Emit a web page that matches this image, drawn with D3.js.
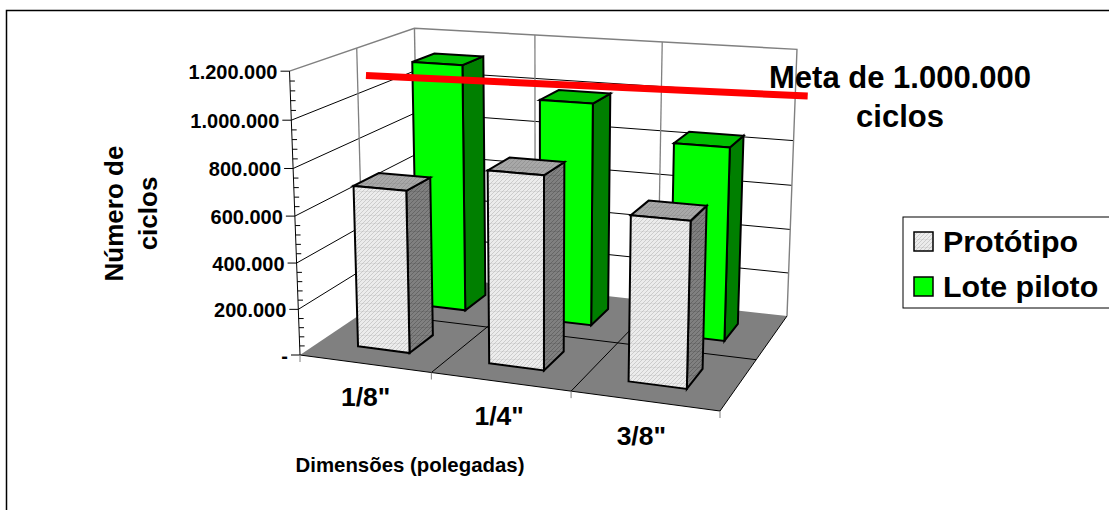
<!DOCTYPE html>
<html><head><meta charset="utf-8">
<script src="https://cdnjs.cloudflare.com/ajax/libs/d3/7.8.5/d3.min.js"></script>
<style>html,body{margin:0;padding:0;background:#fff}svg{display:block}text{font-family:"Liberation Sans",Arial,sans-serif;font-weight:bold;fill:#000}</style>
</head><body><svg id="chart" width="1109" height="510"></svg>
<script>
const categories = ['1/8"', '1/4"', '3/8"'];
const prototipo = [700000, 815000, 685000];
const lotePiloto = [1120000, 990000, 845000];
const yTicks = [0, 200000, 400000, 600000, 800000, 1000000, 1200000];
const yMinorStep = 40000;
const goal = 1000000;

const svg = d3.select("#chart");
const yMax = 1200000;

// Perspective frame of the 3D plot: floor corners and the three visible upper corners.
const floorQuad = [[300,355],[720,411],[787,316],[419,275]];
const upperCorners = [
  {u:0, v:0, top:[290,72], floor:floorQuad[0]},
  {u:0, v:1, top:[414,27], floor:floorQuad[3]},
  {u:1, v:1, top:[797,50], floor:floorQuad[2]}
];

function squareToQuad(q){
  const [[x0,y0],[x1,y1],[x2,y2],[x3,y3]] = q;
  const dx1=x1-x2, dx2=x3-x2, sx=x0-x1+x2-x3, dy1=y1-y2, dy2=y3-y2, sy=y0-y1+y2-y3;
  const det=dx1*dy2-dx2*dy1;
  const g=(sx*dy2-dx2*sy)/det, h=(dx1*sy-sx*dy1)/det;
  return {a:x1-x0+g*x1,b:x3-x0+h*x3,c:x0,d:y1-y0+g*y1,e:y3-y0+h*y3,f:y0,g,h};
}
const H = squareToQuad(floorQuad);

// Least-squares fit of the vertical column of the projection to the upper corners.
function fitVertical(){
  let N=[[0,0,0],[0,0,0],[0,0,0]], r=[0,0,0];
  const add=(row,rhs)=>{for(let i=0;i<3;i++){r[i]+=row[i]*rhs;for(let j=0;j<3;j++)N[i][j]+=row[i]*row[j];}};
  upperCorners.forEach(c=>{
    const w=H.g*c.u+H.h*c.v+1;
    add([1,0,-c.top[0]],(c.top[0]-c.floor[0])*w);
    add([0,1,-c.top[1]],(c.top[1]-c.floor[1])*w);
  });
  const det3=m=>m[0][0]*(m[1][1]*m[2][2]-m[1][2]*m[2][1])-m[0][1]*(m[1][0]*m[2][2]-m[1][2]*m[2][0])+m[0][2]*(m[1][0]*m[2][1]-m[1][1]*m[2][0]);
  const D=det3(N);
  return [0,1,2].map(k=>det3(N.map((row,i)=>row.map((val,j)=>j===k?r[i]:val)))/D);
}
const [va,vb,vc] = fitVertical();

const uScale = d3.scaleLinear().domain([0,3]).range([0,1]);
const zScale = d3.scaleLinear().domain([0,yMax]).range([0,1]);
function project(cat, depth, value){
  const u=uScale(cat), z=zScale(value);
  const w=H.g*u+H.h*depth+vc*z+1;
  return [(H.a*u+H.b*depth+va*z+H.c)/w,(H.d*u+H.e*depth+vb*z+H.f)/w];
}
const poly = pts => "M"+pts.map(p=>p.map(n=>n.toFixed(2)).join(",")).join("L")+"Z";
const seg = (a,b) => `M${a[0].toFixed(2)},${a[1].toFixed(2)}L${b[0].toFixed(2)},${b[1].toFixed(2)}`;

// Dithered fills for the grey series.
const defs = svg.append("defs");
function hatch(id, light, dark){
  const p = defs.append("pattern").attr("id",id).attr("width",4).attr("height",8).attr("patternUnits","userSpaceOnUse");
  p.append("rect").attr("width",4).attr("height",8).attr("fill",light);
  p.append("path").attr("d","M0,2L2,0M2,4L4,2M0,6L2,4M2,8L4,6").attr("stroke",dark).attr("stroke-width",0.8).attr("opacity",0.6);
  p.append("rect").attr("y",7).attr("width",4).attr("height",0.7).attr("fill",dark).attr("opacity",0.35);
}
hatch("hFront","#ececec","#a8a8a8");
hatch("hTop","#a8a8a8","#808080");
hatch("hSide","#808080","#484848");

// Chart frame: only the top and left edges fall inside the page.
svg.append("path").attr("d","M6.5,510V10.5H1109").attr("fill","none").attr("stroke","#000").attr("stroke-width",1.5);

const g = svg.append("g");
const GREY="#808080";

// Floor
g.append("path").attr("d",poly([project(0,0,0),project(3,0,0),project(3,1,0),project(0,1,0)])).attr("fill",GREY).attr("stroke","none");

// Wall gridlines
yTicks.slice(1,-1).forEach(t=>{
  g.append("path").attr("d",seg(project(0,0,t),project(0,1,t))+seg(project(0,1,t),project(3,1,t))).attr("fill","none").attr("stroke","#000").attr("stroke-width",1);
});
// Vertical gridlines and wall outline
[1,2].forEach(c=>g.append("path").attr("d",seg(project(c,1,0),project(c,1,yMax))).attr("stroke",GREY).attr("stroke-width",1.3));
g.append("path").attr("d",seg(project(0,.5,0),project(0,.5,yMax))).attr("stroke",GREY).attr("stroke-width",1.3);
g.append("path").attr("d","M"+[project(0,0,yMax),project(0,1,yMax),project(3,1,yMax),project(3,1,0)].map(p=>p.join(",")).join("L")).attr("fill","none").attr("stroke",GREY).attr("stroke-width",1.4);
g.append("path").attr("d",seg(project(0,1,0),project(0,1,yMax))).attr("stroke",GREY).attr("stroke-width",1.4);

// Floor gridlines
g.append("path").attr("d",seg(project(0,.5,0),project(3,.5,0))+seg(project(1,0,0),project(1,1,0))+seg(project(2,0,0),project(2,1,0))).attr("stroke","#000").attr("stroke-width",1);
// Floor front and right edges
g.append("path").attr("d","M"+[project(0,0,0),project(3,0,0),project(3,1,0)].map(p=>p.join(",")).join("L")).attr("fill","none").attr("stroke","#000").attr("stroke-width",1);

// Bars, back row first
const barHalf = 0.2;
function bar(cat, v0, v1, value, fills){
  const u0=cat+.5-barHalf, u1=cat+.5+barHalf;
  const b = g.append("g").attr("stroke","#000").attr("stroke-width",2).attr("stroke-linejoin","miter");
  b.append("path").attr("d",poly([project(u1,v0,0),project(u1,v1,0),project(u1,v1,value),project(u1,v0,value)])).attr("fill",fills.side);
  b.append("path").attr("d",poly([project(u0,v0,value),project(u1,v0,value),project(u1,v1,value),project(u0,v1,value)])).attr("fill",fills.top);
  b.append("path").attr("d",poly([project(u0,v0,0),project(u1,v0,0),project(u1,v0,value),project(u0,v0,value)])).attr("fill",fills.front);
}
const greenFill={front:"#00ff00",side:"#007f00",top:"#00bf00"};
const hatchFill={front:"url(#hFront)",side:"url(#hSide)",top:"url(#hTop)"};
lotePiloto.forEach((val,i)=>bar(i,.65,.85,val,greenFill));
prototipo.forEach((val,i)=>bar(i,.15,.35,val,hatchFill));

// Goal line
g.append("path").attr("d",seg(project(-.27,.84,goal),project(3.09,1.0,goal))).attr("stroke","#ff0000").attr("stroke-width",7).attr("fill","none");

// Value axis
g.append("path").attr("d",seg(project(0,0,0),project(0,0,yMax))).attr("stroke","#000").attr("stroke-width",1);
d3.range(0,yMax+1,yMinorStep).forEach(t=>{
  const p=project(0,0,t);
  if(t%200000===0) return;
  g.append("path").attr("d",`M${p[0]},${p[1]}h5`).attr("stroke","#000");
});
yTicks.forEach(t=>{
  const p=project(0,0,t);
  g.append("path").attr("d",`M${p[0]-9},${p[1]}h9`).attr("stroke","#000");
  g.append("text").attr("x",p[0]-12).attr("y",p[1]+8).attr("text-anchor","end").attr("font-size",20).text(t===0?"-":d3.format(",")(t).replace(/,/g,"."));
});
// Category ticks
d3.range(0,4).forEach(c=>{const p=project(c,0,0);g.append("path").attr("d",`M${p[0]},${p[1]}v7`).attr("stroke",GREY).attr("stroke-width",1);});
categories.forEach((c,i)=>{
  const p=project(i+.5,0,0);
  g.append("text").attr("x",p[0]+1-i*2).attr("y",p[1]+42+i).attr("text-anchor","middle").attr("font-size",26.5).text(c);
});

// Titles
svg.append("text").attr("x",410).attr("y",472).attr("text-anchor","middle").attr("font-size",20.4).text("Dimensões (polegadas)");
const yt=svg.append("text").attr("transform","rotate(-90)").attr("text-anchor","middle").attr("font-size",26);
yt.append("tspan").attr("x",-213.5).attr("y",123).text("Número de");
yt.append("tspan").attr("x",-213.5).attr("y",157).text("ciclos");
svg.append("text").attr("x",900).attr("y",88).attr("text-anchor","middle").attr("font-size",31).text("Meta de 1.000.000");
svg.append("text").attr("x",900).attr("y",127).attr("text-anchor","middle").attr("font-size",31).text("ciclos");

// Legend
const lg=svg.append("g");
lg.append("rect").attr("x",903).attr("y",217).attr("width",210).attr("height",91).attr("fill","#fff").attr("stroke","#000").attr("stroke-width",1);
[["Protótipo","url(#hFront)"],["Lote piloto","#00ff00"]].forEach(([t,f],i)=>{
  const y=232+i*45;
  lg.append("rect").attr("x",914).attr("y",y).attr("width",19).attr("height",19).attr("fill",f).attr("stroke","#000").attr("stroke-width",1.5);
  lg.append("text").attr("x",943).attr("y",y+19.5).attr("font-size",30.4).text(t);
});
</script></body></html>
